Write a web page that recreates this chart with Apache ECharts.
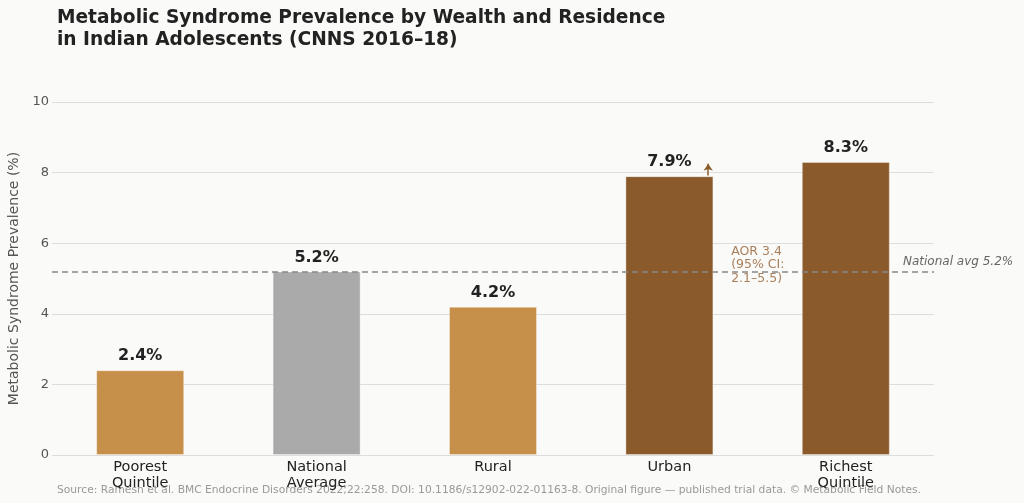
<!DOCTYPE html>
<html>
<head>
<meta charset="utf-8">
<script src="https://cdn.jsdelivr.net/npm/echarts@6/dist/echarts.min.js"></script>
<style>
  html, body { margin: 0; padding: 0; background: #FAFAF8; }
  #chart { width: 1024px; height: 503px; }
</style>
</head>
<body>
<div id="chart"></div>
<script>
// data
var categories = ['Poorest\nQuintile', 'National\nAverage', 'Rural', 'Urban', 'Richest\nQuintile'];
var prevalence = [2.4, 5.2, 4.2, 7.9, 8.3];
var barColors = ['#C68F4A', '#AAAAAA', '#C68F4A', '#8B5A2B', '#8B5A2B'];
var nationalAvg = 5.2;
var yTicks = [0, 2, 4, 6, 8, 10];

var font = 'DejaVu Sans';
var myChart = echarts.init(document.getElementById('chart'));

var barData = [];
for (let i = 0; i < prevalence.length; i++) {
	barData.push({
		value: prevalence[i],
		itemStyle: { color: barColors[i] }
	});
}

var option = {
	backgroundColor: '#FAFAF8',
	animation: false,
	textStyle: { fontFamily: font },
	title: {
		text: 'Metabolic Syndrome Prevalence by Wealth and Residence\nin Indian Adolescents (CNNS 2016\u201318)',
		left: 57,
		top: 7,
		padding: 0,
		textStyle: { fontFamily: font, fontSize: 18.6, fontWeight: 'bold', color: '#222', lineHeight: 22 }
	},
	graphic: [{
		type: 'text',
		left: 57,
		top: 485,
		style: {
			text: 'Source: Ramesh et al. BMC Endocrine Disorders 2022;22:258. DOI: 10.1186/s12902-022-01163-8. Original figure \u2014 published trial data. \u00a9 Metabolic Field Notes.',
			fontFamily: font, fontSize: 10.7, fill: '#999'
		},
		z: -1
	}],
	grid: { left: 52, width: 882, top: 102, height: 353, outerBoundsMode: 'none' },
	xAxis: [{
		type: 'category',
		data: categories,
		axisLine: { show: false },
		axisTick: { show: false },
		axisLabel: { color: '#222', fontSize: 14.5, lineHeight: 16, margin: 4, fontFamily: font, interval: 0 }
	}, {
		type: 'value',
		min: -0.5, max: 4.5,
		show: false
	}],
	yAxis: {
		type: 'value',
		min: yTicks[0],
		max: yTicks[yTicks.length - 1],
		interval: 2,
		name: 'Metabolic Syndrome Prevalence (%)',
		nameLocation: 'middle',
		nameGap: 25,
		nameTextStyle: { color: '#555', fontSize: 14, fontFamily: font },
		axisLine: { show: false },
		axisTick: { show: false },
		axisLabel: { color: '#555', fontSize: 13, margin: 3, fontFamily: font },
		splitLine: { lineStyle: { color: '#DDDDDD', width: 1 } }
	},
	series: [{
		type: 'bar',
		data: barData,
		barWidth: 88,
		itemStyle: { borderColor: 'rgba(255,255,255,0.35)', borderWidth: 1 },
		label: {
			show: true,
			position: 'top',
			distance: 6,
			formatter: function (p) { return p.value.toFixed(1) + '%'; },
			fontSize: 16, fontWeight: 'bold', color: '#222', fontFamily: font
		},
		markLine: {
			silent: true,
			symbol: ['none', 'none'],
			lineStyle: { color: '#888', type: [6, 4], width: 1.5 },
			label: {
				position: 'end',
				formatter: 'National avg 5.2%',
				fontStyle: 'italic', fontSize: 12, color: '#666', fontFamily: font,
				offset: [-36, -10]
			},
			data: [{ yAxis: nationalAvg }]
		},
		z: 2
	}, {
		// annotation for urban vs rural odds ratio
		type: 'scatter',
		xAxisIndex: 1,
		data: [[3.35, 5.38]],
		symbolSize: 0,
		silent: true,
		label: {
			show: true,
			position: 'right',
			distance: 0,
			formatter: 'AOR 3.4\n(95% CI:\n2.1\u20135.5)',
			color: '#966235', fontSize: 12.5, lineHeight: 13.5, fontFamily: font
		},
		markLine: {
			silent: true,
			symbol: ['none', 'arrow'],
			symbolSize: 7,
			lineStyle: { color: '#8B5A2B', type: 'solid', width: 1.5 },
			label: { show: false },
			data: [[{ coord: [3.22, 7.92] }, { coord: [3.22, 8.25] }]]
		},
		z: 3
	}]
};

myChart.setOption(option);
</script>
</body>
</html>
